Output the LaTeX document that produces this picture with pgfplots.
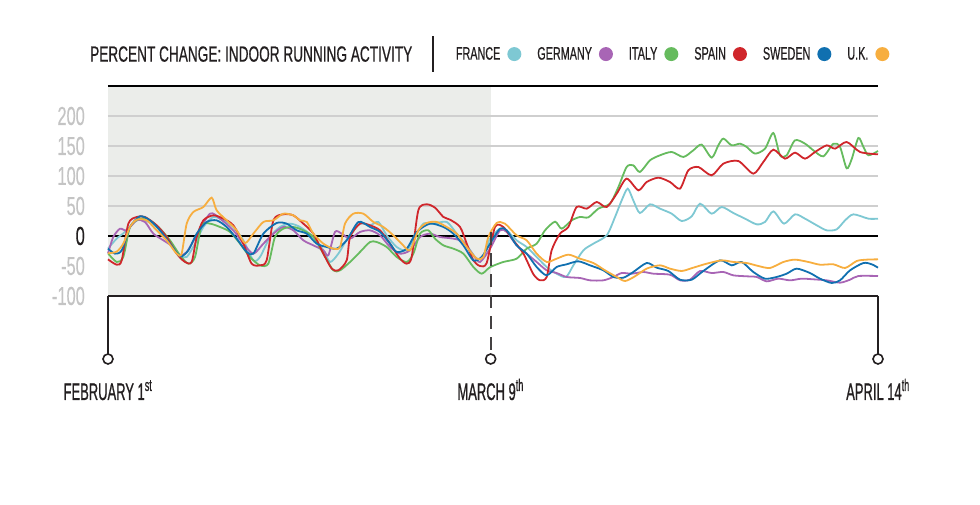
\documentclass[border=0pt]{standalone}
\usepackage{pgfplots}
\pgfplotsset{compat=1.18}
\usepackage{fontspec}
\setmainfont{Liberation Sans}
\newfontfamily\titlefont{Liberation Sans}[FakeStretch=0.62,FakeBold=0.6]
\newfontfamily\legendfont{Liberation Sans}[FakeStretch=0.6,FakeBold=0.6]
\newfontfamily\tickfont{Liberation Sans}[FakeStretch=0.63,FakeBold=0.4]
\newfontfamily\datefont{Liberation Sans}[FakeStretch=0.54,FakeBold=0.7]
\definecolor{cFR}{HTML}{7EC8D3}
\definecolor{cDE}{HTML}{A865B5}
\definecolor{cIT}{HTML}{66BB5E}
\definecolor{cES}{HTML}{D0262B}
\definecolor{cSE}{HTML}{1070B0}
\definecolor{cUK}{HTML}{F7AE3F}
\definecolor{shadebg}{HTML}{EBEDEA}
\definecolor{gridc}{HTML}{CFCFCF}
\definecolor{tickgray}{HTML}{C4C4C4}
\definecolor{ink}{HTML}{231F20}

\pgfplotstableread{
x y
0 -21.1
0.82 -4.4
1.6 6.7
2.72 26.1
3.5 26.1
4.61 15.0
5.88 -12.8
6.83 -32.2
7.46 -35.0
8.25 -12.8
9.04 15.0
9.99 31.7
10.94 26.1
11.88 15.0
12.83 -7.2
13.78 -40.6
14.41 -35.0
15.36 -1.7
16.31 15.0
17.26 20.6
18.2 15.0
19.47 -1.7
20.42 -23.9
21.05 -43.3
21.84 -29.4
22.79 -1.7
23.89 20.6
24.84 17.8
25.63 23.4
26.42 1.1
27.37 -18.3
28.32 -23.9
29.11 -1.7
29.9 20.6
30.85 20.6
32.11 23.4
33.06 3.9
34.01 -15.6
34.96 -37.8
35.59 -32.2
36.22 -4.4
37.16 12.2
37.8 9.4
38.74 -7.2
39.69 -18.3
40.64 -35.0
41.59 -51.7
42.53 -62.8
43.42 -68.3
44.12 -48.9
45.07 -23.9
46.01 -12.8
47.28 1.1
48.07 31.7
48.7 59.4
49.27 78.9
49.8 59.4
50.43 38.3
51.38 52.8
52.33 45.6
53.44 37.2
54.39 25.0
55.34 32.8
56.13 53.9
57.23 37.2
58.18 48.3
59.29 38.3
60.39 28.9
61.5 19.4
62.29 23.4
63.08 41.1
64.09 20.6
65.13 36.1
66.08 28.9
67.19 17.8
68.14 9.4
69.08 11.1
69.88 26.1
70.67 36.1
72.09 28.9
73 28.9
}\france

\pgfplotstableread{
x y
0 -28.9
0.5 -1.7
1.14 12.2
1.77 9.4
2.72 26.1
3.5 23.4
4.3 3.9
5.25 -7.2
6.19 -18.3
6.83 -32.2
7.46 -26.7
8.41 1.1
9.67 37.2
10.62 28.9
11.88 9.4
12.83 -12.8
13.78 -29.4
14.73 -12.8
15.68 3.9
16.62 15.0
17.57 9.4
18.52 -7.2
19.47 -15.6
20.42 -23.9
20.89 -32.2
21.52 6.7
22.15 3.9
22.95 -4.4
23.89 6.7
24.84 9.4
25.79 1.1
26.74 -18.3
27.69 -29.4
28.63 -23.9
29.58 -1.7
30.53 3.9
31.48 -1.7
32.74 -4.4
33.69 -10.0
34.64 -32.2
35.27 -43.3
36.22 -21.1
37.16 9.4
37.8 6.7
38.74 -15.6
39.69 -29.4
40.64 -43.3
41.59 -57.2
42.53 -61.7
43.48 -68.3
44.75 -70.0
45.7 -73.9
46.96 -73.9
47.91 -68.3
48.7 -61.7
49.65 -62.8
50.75 -60.0
51.7 -62.8
53.28 -64.5
54.23 -73.9
55.18 -72.8
56.13 -58.3
57.23 -61.7
58.34 -60.0
59.29 -65.6
60.55 -67.2
61.5 -68.3
62.45 -75.6
63.55 -71.1
64.66 -73.9
65.76 -71.1
66.87 -72.2
68.14 -73.9
69.4 -77.8
70.35 -72.8
71.14 -66.7
73 -66.7
}\germany

\pgfplotstableread{
x y
0 -28.9
0.82 -43.3
1.45 -35.0
2.09 15.0
3.03 28.9
3.98 26.1
4.93 12.2
5.88 -7.2
6.83 -32.2
7.62 -46.1
8.25 -35.0
8.88 17.8
9.67 20.6
10.62 15.0
11.57 6.7
12.52 -12.8
13.46 -35.0
14.41 -48.9
15.2 -46.1
15.83 -1.7
16.62 12.2
17.57 15.0
18.52 9.4
19.47 -1.7
20.42 -29.4
21.36 -57.2
22.0 -57.2
22.95 -43.3
23.89 -26.7
24.84 -10.0
25.47 -10.0
26.42 -18.3
27.37 -35.0
28.32 -43.3
28.95 -29.4
29.58 3.9
30.37 9.4
31.0 -4.4
31.8 -15.6
32.74 -21.1
33.69 -29.4
34.64 -51.7
35.43 -62.8
36.22 -52.0
37.48 -43.3
38.74 -37.8
39.69 -21.1
40.64 -12.8
41.43 9.4
42.38 23.9
43.01 12.2
43.96 26.1
44.75 31.7
45.54 31.1
46.49 45.6
47.59 53.9
48.39 81.7
49.17 115.0
49.8 117.8
50.43 106.7
51.38 126.1
52.33 134.5
53.44 140.0
54.55 131.7
55.49 142.8
56.28 152.3
57.23 130.6
57.86 151.1
58.34 162.3
59.13 151.1
59.92 153.9
60.55 148.4
61.34 137.3
62.29 145.6
63.08 171.7
63.71 134.5
64.34 134.5
65.13 159.5
66.08 153.9
66.87 142.8
67.82 132.8
68.77 153.9
69.4 148.4
70.03 112.8
70.51 128.4
71.14 163.4
71.62 148.4
72.09 134.5
73 141.7
}\italy

\pgfplotstableread{
x y
0 -38.9
0.82 -47.8
1.3 -40.6
1.93 20.6
2.72 31.7
3.5 31.7
4.61 17.8
5.56 -1.7
6.51 -29.4
7.3 -43.3
7.93 -43.3
8.41 -1.7
9.04 26.1
9.99 34.4
10.94 28.9
11.88 17.8
12.83 -12.8
13.62 -46.1
14.41 -48.9
15.04 -40.6
15.68 26.1
16.62 36.1
17.57 34.4
18.52 20.6
19.47 3.9
20.42 -29.4
21.21 -54.4
21.84 -57.2
22.63 -40.6
22.95 -1.7
23.89 20.6
24.84 17.8
25.79 9.4
26.74 -12.8
27.69 -37.8
28.32 -46.1
28.79 -35.0
29.42 42.8
30.21 52.8
31.0 47.2
31.8 31.7
32.43 27.2
33.38 15.0
34.01 -12.8
34.64 -40.6
35.27 -50.0
35.9 -45.0
36.69 15.0
37.48 15.0
38.43 -7.2
39.37 -28.9
40.32 -63.4
40.96 -73.9
41.59 -68.4
42.06 -23.9
42.85 3.9
43.64 15.0
44.43 48.3
45.39 45.6
46.33 56.7
47.28 48.3
48.23 70.6
49.17 95.6
50.28 76.1
51.07 90.0
52.18 97.2
53.28 90.0
54.23 78.9
55.02 109.5
55.97 115.0
57.23 101.1
58.34 120.6
59.76 125.0
61.18 103.9
62.13 123.4
63.08 143.9
64.18 128.9
65.13 138.9
66.08 128.9
67.03 140.0
68.14 151.1
68.93 145.6
70.03 156.7
71.3 140.0
73 136.1
}\spain

\pgfplotstableread{
x y
0 -21.1
0.66 -29.4
1.3 -23.9
2.09 15.0
3.03 32.8
3.98 26.1
4.93 9.4
5.88 -12.8
6.83 -33.9
7.62 -23.9
8.41 3.9
9.36 23.4
10.3 26.1
11.25 15.0
12.2 -4.4
13.15 -26.7
13.78 -29.4
14.73 3.9
15.99 21.7
16.94 20.6
17.89 9.4
18.84 3.9
19.78 -12.8
20.73 -18.3
21.68 -21.1
22.63 -7.2
23.74 23.4
24.84 15.0
25.79 6.7
26.74 -12.8
27.37 -26.7
28.32 -21.1
29.27 6.7
30.53 20.6
31.8 15.0
32.74 3.9
33.69 -15.6
34.64 -40.6
35.43 -35.0
36.22 -12.8
37.16 12.2
37.8 9.4
38.74 -15.6
39.69 -29.4
40.64 -51.7
41.59 -65.6
42.53 -51.7
43.48 -47.2
44.59 -42.2
45.7 -48.9
46.96 -57.2
47.91 -68.3
48.86 -69.5
49.8 -60.0
51.07 -45.0
52.02 -52.8
53.12 -58.3
54.23 -72.8
55.34 -72.8
56.44 -58.3
58.02 -40.6
59.13 -48.9
60.07 -43.3
61.18 -60.0
62.29 -71.1
63.39 -68.3
64.34 -62.8
65.29 -54.4
66.55 -61.7
67.5 -71.1
68.61 -78.3
69.4 -73.9
70.35 -57.2
71.62 -45.0
72.41 -47.2
73 -52.8
}\sweden

\pgfplotstableread{
x y
0 -28.9
0.82 -26.1
1.45 -12.8
2.09 15.0
2.72 27.2
3.67 26.1
4.61 9.4
5.56 -7.2
6.51 -29.4
6.98 -29.4
7.46 20.6
8.09 40.0
9.04 48.3
9.83 63.9
10.3 42.8
11.25 26.1
12.2 9.4
12.99 -11.7
13.78 3.9
14.73 23.4
15.68 26.1
16.62 37.2
17.57 34.4
18.2 26.1
18.84 23.4
19.47 3.9
20.42 -12.8
21.36 -21.1
22.0 -18.3
22.47 20.6
23.26 37.2
24.21 37.2
25.16 23.4
26.11 15.0
27.05 1.1
27.84 -12.8
28.63 -23.9
29.42 9.4
30.21 21.7
31.16 23.4
32.11 15.0
33.06 3.9
34.01 -18.3
34.96 -37.8
35.59 -35.0
36.06 -1.7
36.85 21.7
37.63 20.6
38.74 1.1
39.69 -7.2
40.64 -29.4
41.59 -43.3
42.53 -37.8
43.64 -31.1
44.75 -37.8
46.01 -45.0
47.12 -57.2
48.23 -68.3
49.02 -75.0
49.96 -67.2
51.07 -54.4
52.33 -48.9
53.28 -54.4
54.39 -58.3
55.49 -52.8
56.76 -46.1
58.18 -40.6
59.29 -43.3
60.55 -45.0
61.65 -50.0
62.76 -53.3
64.03 -43.3
65.13 -39.4
66.4 -43.3
67.5 -47.8
68.77 -47.2
69.88 -53.3
70.98 -41.7
71.93 -39.4
73 -38.9
}\uk

\begin{document}
\begin{tikzpicture}
\useasboundingbox (-108pt,-209pt) rectangle (872pt,296pt);
\begin{axis}[
  scale only axis,
  width=770pt, height=210pt,
  xmin=0, xmax=73, ymin=-100, ymax=250,
  clip=false,
  axis line style={draw=none},
  major tick length=0pt,
  ytick={-100,-50,0,50,100,150,200},
  yticklabels={-100,-50,\textcolor{ink}{0},50,100,150,200},
  yticklabel style={font=\tickfont\fontsize{26}{26}\selectfont, text=tickgray, anchor=east, inner sep=0pt, xshift=-23pt},
  xtick={0,36.28,73},
  xticklabels={FEBRUARY 1\textsuperscript{st}, MARCH 9\textsuperscript{th}, APRIL 14\textsuperscript{th}},
  xticklabel style={font=\datefont\fontsize{24}{24}\selectfont, text=ink, anchor=base, inner sep=0pt, yshift=-104pt},
  legend columns=6,
  legend plot pos=right,
  legend image code/.code={\fill[#1,draw=none] (7pt,0pt) circle (7pt);},
  legend style={draw=none, fill=none, at={(0.449,1.152)}, anchor=west,
    font=\legendfont\fontsize{18}{18}\selectfont, text=ink, inner sep=0pt,
    /tikz/every even column/.append style={column sep=14pt},
    /tikz/every odd column/.append style={column sep=5pt}},
  every axis plot/.append style={line width=1.8pt, smooth, tension=0.45},
]
\fill[shadebg] (axis cs:0,-100) rectangle (axis cs:36.28,250);
\foreach \g in {50,100,150,200}{
  \edef\temp{\noexpand\draw[gridc, line width=1.5pt] (axis cs:0,\g) -- (axis cs:73,\g);}\temp
}
\draw[black, line width=2pt] (axis cs:0,0) -- (axis cs:73,0);
\draw[black, line width=2pt] (axis cs:0,250) -- (axis cs:73,250);

\addplot[cFR] table {\france}; \addlegendentry{FRANCE}
\addplot[cDE] table {\germany}; \addlegendentry{GERMANY}
\addplot[cIT] table {\italy}; \addlegendentry{ITALY}
\addplot[cES] table {\spain}; \addlegendentry{SPAIN}
\addplot[cSE] table {\sweden}; \addlegendentry{SWEDEN}
\addplot[cUK] table {\uk}; \addlegendentry{U.K.}

\draw[ink, line width=2pt] (axis cs:0,-100) -- (axis cs:73,-100);
\draw[ink, line width=2pt] (axis cs:0,-100) -- (axis cs:0,-196);
\draw[ink, line width=2pt] (axis cs:73,-100) -- (axis cs:73,-196);
\draw[ink!85, line width=1.8pt, dash pattern=on 13pt off 8pt] (axis cs:36.28,6) -- (axis cs:36.28,-196);
\draw[ink, line width=1.6pt, fill=white] (axis cs:0,-205) circle (5pt);
\draw[ink, line width=1.6pt, fill=white] (axis cs:36.28,-205) circle (5pt);
\draw[ink, line width=1.6pt, fill=white] (axis cs:73,-205) circle (5pt);

\node[font=\titlefont\fontsize{22}{22}\selectfont, text=ink, anchor=west, inner sep=0pt] at (axis description cs:-0.0234,1.152) {PERCENT CHANGE: INDOOR RUNNING ACTIVITY};
\draw[ink, line width=1.5pt] (axis description cs:0.422,1.067) -- (axis description cs:0.422,1.238);
\end{axis}
\end{tikzpicture}
\end{document}
